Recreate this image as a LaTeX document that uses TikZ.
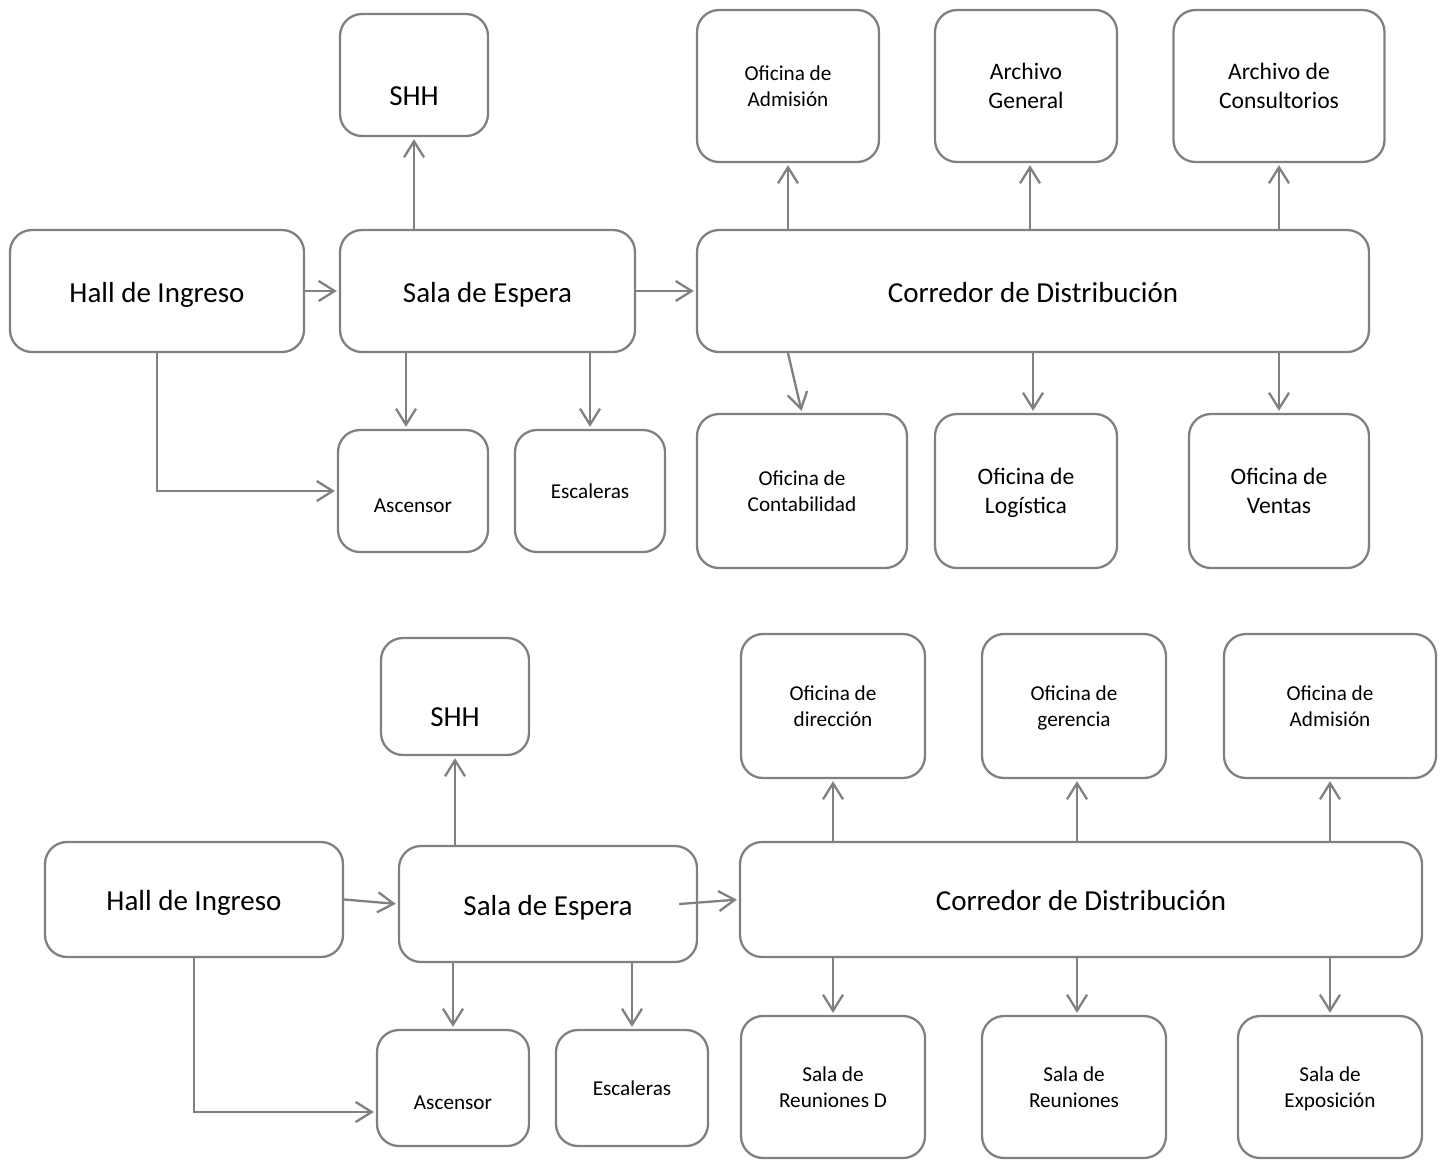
\documentclass[tikz,border=0pt]{standalone}
\usepackage{fontspec}
\setmainfont{Carlito}
\usetikzlibrary{arrows.meta}

\begin{document}
\begin{tikzpicture}[x=1pt, y=-1pt, shorten >=2pt, >={Straight Barb[length=16pt,width=20pt]},
main node/.style={rectangle,rounded corners=22pt,draw=gray,line width=2.3pt,inner sep=0pt,align=center},
box size/.style 2 args={minimum width=#1pt,minimum height=#2pt},
big/.style={font=\fontsize{29}{35}\selectfont,text height=22pt,text depth=0pt},
mid/.style={font=\fontsize{23.6}{29}\selectfont,text depth=0pt},
small/.style={font=\fontsize{21.2}{26}\selectfont,text depth=0pt},
low text/.style={text height=#1,text depth=0pt},
link/.style={->,draw=gray,line width=2.3pt}]
\useasboundingbox (0,0) rectangle (1446,1160);
% upper plan
\begin{scope}
\node[main node,big,box size={294}{122}] (hall1) at (157,291) {Hall de Ingreso};
\node[main node,big,box size={295}{122}] (sala1) at (487.5,291) {Sala de Espera};
\node[main node,big,box size={672}{122}] (corr1) at (1033,291) {Corredor de Distribución};
\node[main node,big,box size={148}{122},low text=60pt] (shh1) at (414,75) {SHH};
\node[main node,small,box size={182}{152}] (adm1) at (788,86) {Oficina de\\Admisión};
\node[main node,mid,box size={182}{152}] (arch1) at (1026,86) {Archivo\\General};
\node[main node,mid,box size={211}{152}] (cons1) at (1279,86) {Archivo de\\Consultorios};
\node[main node,small,box size={150}{122},low text=42pt] (asc1) at (413,491) {Ascensor};
\node[main node,small,box size={150}{122}] (esc1) at (590,491) {Escaleras};
\node[main node,small,box size={210}{154}] (cont1) at (802,491) {Oficina de\\Contabilidad};
\node[main node,mid,box size={182}{154}] (log1) at (1026,491) {Oficina de\\Logística};
\node[main node,mid,box size={180}{154}] (ven1) at (1279,491) {Oficina de\\Ventas};
\end{scope}
\begin{scope}
\draw[link] (hall1.east) -- (sala1.west);
\draw[link] (sala1.east) -- (corr1.west);
\draw[link] (sala1.north -| shh1) -- (shh1.south);
\draw[link] ([xshift=-7pt]asc1.north |- sala1.south) -- ([xshift=-7pt]asc1.north);
\draw[link] (sala1.south -| esc1) -- (esc1.north);
\draw[link] (hall1.south) |- (asc1.west);
\draw[link] (corr1.north -| adm1) -- (adm1.south);
\draw[link] ([xshift=4pt]arch1.south |- corr1.north) -- ([xshift=4pt]arch1.south);
\draw[link] (corr1.north -| cons1) -- (cons1.south);
\draw[link] (corr1.south -| adm1) -- (cont1.north);
\draw[link] (corr1.south) -- (corr1.south |- log1.north);
\draw[link] (corr1.south -| ven1) -- (ven1.north);
\end{scope}
% lower plan
\begin{scope}
\node[main node,big,box size={298}{115}] (hall2) at (194,899.5) {Hall de Ingreso};
\node[main node,big,box size={298}{116}] (sala2) at (548,904) {Sala de Espera};
\node[main node,big,box size={682}{115}] (corr2) at (1081,899.5) {Corredor de Distribución};
\node[main node,big,box size={148}{117},low text=60pt] (shh2) at (455,696.5) {SHH};
\node[main node,small,box size={184}{144}] (dir2) at (833,706) {Oficina de\\dirección};
\node[main node,small,box size={184}{144}] (ger2) at (1074,706) {Oficina de\\gerencia};
\node[main node,small,box size={212}{144}] (adm2) at (1330,706) {Oficina de\\Admisión};
\node[main node,small,box size={152}{116},low text=42pt] (asc2) at (453,1088) {Ascensor};
\node[main node,small,box size={152}{116}] (esc2) at (632,1088) {Escaleras};
\node[main node,small,box size={184}{142}] (reud2) at (833,1087) {Sala de\\Reuniones D};
\node[main node,small,box size={184}{142}] (reu2) at (1074,1087) {Sala de\\Reuniones};
\node[main node,small,box size={184}{142}] (exp2) at (1330,1087) {Sala de\\Exposición};
\end{scope}
\begin{scope}
\draw[link] (hall2.east) -- (sala2.west);
\draw[link] ([xshift=-19pt]sala2.east) -- (corr2.west);
\draw[link] (sala2.north -| shh2) -- (shh2.south);
\draw[link] (sala2.south -| asc2) -- (asc2.north);
\draw[link] (sala2.south -| esc2) -- (esc2.north);
\draw[link] (hall2.south) |- ([yshift=-24pt]asc2.west);
\draw[link] (corr2.north -| dir2) -- (dir2.south);
\draw[link] ([xshift=3pt]ger2.south |- corr2.north) -- ([xshift=3pt]ger2.south);
\draw[link] (corr2.north -| adm2) -- (adm2.south);
\draw[link] (corr2.south -| reud2) -- (reud2.north);
\draw[link] ([xshift=3pt]reu2.north |- corr2.south) -- ([xshift=3pt]reu2.north);
\draw[link] (corr2.south -| exp2) -- (exp2.north);
\end{scope}
\end{tikzpicture}
\end{document}
